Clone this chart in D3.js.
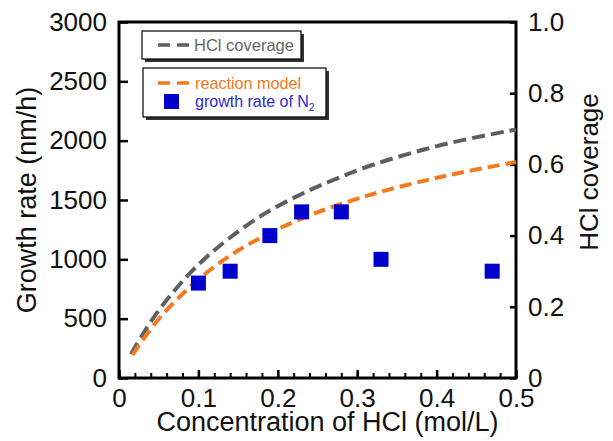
<!DOCTYPE html>
<html>
<head>
<meta charset="utf-8">
<script src="https://cdn.jsdelivr.net/npm/d3@7"></script>
<style>
  body { margin: 0; background: #fff; }
  svg { font-family: "Liberation Sans", Arial, sans-serif; }
</style>
</head>
<body>
<div id="chart"></div>
<script>
// growth rate measurements (N2 carrier)
var concN2 = [0.10, 0.14, 0.19, 0.23, 0.28, 0.33, 0.47];
var growthN2 = [800, 900, 1200, 1400, 1400, 1000, 900];

// reaction model curve (nm/h)
var modelConc = [0.017, 0.02, 0.04, 0.06, 0.08, 0.10, 0.125, 0.15, 0.175, 0.205, 0.24, 0.27, 0.31, 0.33, 0.38, 0.43, 0.5];
var modelGrowth = [195, 225, 413, 572, 708, 830, 962, 1074, 1170, 1270, 1370, 1445, 1530, 1570, 1655, 1730, 1820];

// HCl coverage curve, right axis
var covConc = [0.015, 0.03, 0.05, 0.07, 0.09, 0.11, 0.135, 0.18, 0.23, 0.275, 0.32, 0.37, 0.42, 0.5];
var covValue = [0.067, 0.123, 0.19, 0.246, 0.296, 0.339, 0.386, 0.457, 0.517, 0.561, 0.599, 0.633, 0.662, 0.698];

var xTicks = [0, 0.1, 0.2, 0.3, 0.4, 0.5];
var yTicks = [0, 500, 1000, 1500, 2000, 2500, 3000];
var y2Ticks = [0, 0.2, 0.4, 0.6, 0.8, 1.0];

var width = 613, height = 441;
var mLeft = 119, mRight = 516, mTop = 22, mBottom = 378;

var svg = d3.select('#chart').append('svg')
    .attr('width', width)
    .attr('height', height);

var x = d3.scaleLinear().domain([0, 0.5]).range([mLeft, mRight]);
var y = d3.scaleLinear().domain([0, 3000]).range([mBottom, mTop]);
var y2 = d3.scaleLinear().domain([0, 1]).range([mBottom, mTop]);

// minor x ticks
svg.append('g')
    .attr('transform', 'translate(0,' + mBottom + ')')
    .call(d3.axisBottom(x).tickValues(d3.range(0, 0.501, 0.02)).tickSize(-5).tickFormat(''))
    .call(function (g) { g.select('.domain').remove(); })
    .selectAll('line').attr('stroke', '#000').attr('stroke-width', 2);

var xAxis = svg.append('g')
    .attr('transform', 'translate(0,' + mBottom + ')')
    .call(d3.axisBottom(x).tickValues(xTicks).tickSize(-8).tickPadding(11)
        .tickFormat(function (d) { return d === 0 ? '0' : d3.format('.1f')(d); }));

var yAxis = svg.append('g')
    .attr('transform', 'translate(' + mLeft + ',0)')
    .call(d3.axisLeft(y).tickValues(yTicks).tickSize(-9).tickPadding(12).tickFormat(d3.format('d')));

var y2Axis = svg.append('g')
    .attr('transform', 'translate(' + mRight + ',0)')
    .call(d3.axisRight(y2).tickValues(y2Ticks).tickSize(-6).tickPadding(12)
        .tickFormat(function (d) { return d === 0 ? '0' : d3.format('.1f')(d); }));

[xAxis, yAxis, y2Axis].forEach(function (g) {
    g.select('.domain').remove();
    g.selectAll('line').attr('stroke', '#000').attr('stroke-width', 2.5);
    g.selectAll('text').attr('font-size', 26).attr('fill', '#111')
        .attr('font-family', '"Liberation Sans", Arial, sans-serif');
});
xAxis.selectAll('text').attr('dy', '0.71em');
y2Axis.selectAll('text').attr('dy', '0.32em');

// frame
svg.append('rect')
    .attr('x', mLeft).attr('y', mTop)
    .attr('width', mRight - mLeft).attr('height', mBottom - mTop)
    .attr('fill', 'none').attr('stroke', '#000').attr('stroke-width', 3);

// curves
var covLine = d3.line()
    .x(function (d, i) { return x(covConc[i]); })
    .y(function (d) { return y2(d); })
    .curve(d3.curveCatmullRom);
svg.append('path')
    .attr('d', covLine(covValue))
    .attr('fill', 'none').attr('stroke', '#5f5f5f')
    .attr('stroke-width', 4).attr('stroke-dasharray', '13,6');

var modelLine = d3.line()
    .x(function (d, i) { return x(modelConc[i]); })
    .y(function (d) { return y(d); })
    .curve(d3.curveCatmullRom);
svg.append('path')
    .attr('d', modelLine(modelGrowth))
    .attr('fill', 'none').attr('stroke', '#f47a20')
    .attr('stroke-width', 4).attr('stroke-dasharray', '12,6');

// data squares
var sq = 15;
svg.selectAll('.pt')
    .data(growthN2)
    .enter()
    .append('rect')
    .attr('class', 'pt')
    .attr('x', function (d, i) { return x(concN2[i]) - sq / 2; })
    .attr('y', function (d) { return y(d) - sq / 2; })
    .attr('width', sq).attr('height', sq)
    .attr('fill', '#0000cc');

// axis titles
svg.append('text')
    .attr('x', (mLeft + mRight) / 2 + 10).attr('y', 431)
    .attr('text-anchor', 'middle').attr('font-size', 27).attr('fill', '#111')
    .text('Concentration of HCl (mol/L)');

svg.append('text')
    .attr('transform', 'translate(36,200) rotate(-90)')
    .attr('text-anchor', 'middle').attr('font-size', 27).attr('fill', '#111')
    .text('Growth rate (nm/h)');

svg.append('text')
    .attr('transform', 'translate(598,172) rotate(-90)')
    .attr('text-anchor', 'middle').attr('font-size', 26).attr('fill', '#111')
    .text('HCl coverage');

// legend boxes
function legendBox(bx, by, bw, bh) {
    svg.append('rect')
        .attr('x', bx + 3).attr('y', by + 3).attr('width', bw).attr('height', bh)
        .attr('fill', '#333');
    svg.append('rect')
        .attr('x', bx).attr('y', by).attr('width', bw).attr('height', bh)
        .attr('fill', '#fff').attr('stroke', '#000').attr('stroke-width', 1.2);
}
legendBox(142, 31, 159, 28);
legendBox(143, 68, 183, 49);

svg.append('line')
    .attr('x1', 158).attr('x2', 189).attr('y1', 45).attr('y2', 45)
    .attr('stroke', '#5f5f5f').attr('stroke-width', 3.5).attr('stroke-dasharray', '12,7');
svg.append('text')
    .attr('x', 194).attr('y', 51).attr('font-size', 16.5).attr('fill', '#666')
    .text('HCl coverage');

svg.append('line')
    .attr('x1', 158).attr('x2', 189).attr('y1', 83).attr('y2', 83)
    .attr('stroke', '#f47a20').attr('stroke-width', 3.5).attr('stroke-dasharray', '12,7');
svg.append('text')
    .attr('x', 195).attr('y', 89).attr('font-size', 16.2).attr('fill', '#f47a20')
    .text('reaction model');

svg.append('rect')
    .attr('x', 164).attr('y', 94).attr('width', 15).attr('height', 15)
    .attr('fill', '#0000cc');
var t = svg.append('text')
    .attr('x', 195).attr('y', 107).attr('font-size', 16).attr('fill', '#2a2ad0');
t.append('tspan').text('growth rate of N');
t.append('tspan').attr('font-size', 10.5).attr('dy', 4).text('2');
</script>
</body>
</html>
